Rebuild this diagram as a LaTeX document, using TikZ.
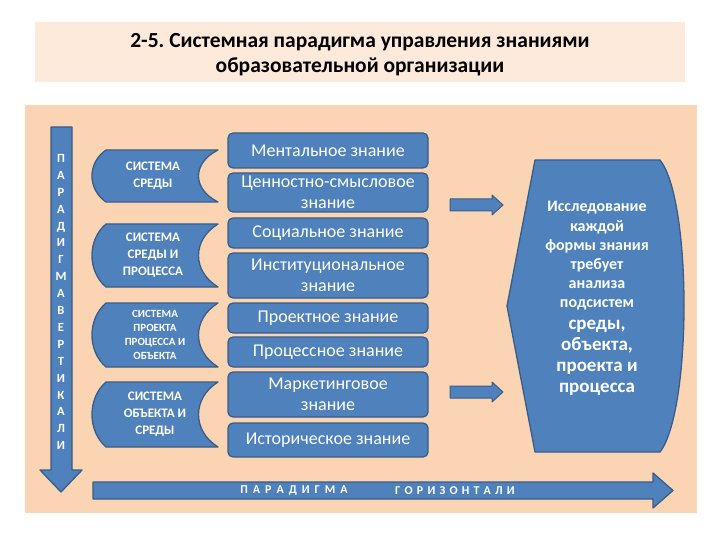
\documentclass[tikz,border=0pt]{standalone}
\usepackage{fontspec}
\setmainfont{Carlito}
\frenchspacing
\definecolor{myblue}{HTML}{4F81BD}
\definecolor{myborder}{HTML}{385D8A}
\definecolor{panelbg}{HTML}{FAD4B3}
\definecolor{titlebg}{HTML}{FDEADA}
\newcommand\lgap{\hspace{5pt}}
\newcommand\lgapb{\hspace{4.2pt}}
\tikzset{
  blueshape/.style={fill=myblue, draw=myborder, line width=1.3pt, line join=round},
  kbox/.style={blueshape, rounded corners=5pt, minimum width=200pt, text=white,
    align=center, inner sep=1pt, font=\fontsize{18}{21}\selectfont},
  scrolltxt/.style={text=white, align=center, font=\bfseries\fontsize{12}{16}\selectfont},
  whitetxt/.style={text=white, align=center}
}
\begin{document}
\begin{tikzpicture}[x=1pt,y=-1pt]
\useasboundingbox (0,0) rectangle (720,540);
\fill[white] (0,0) rectangle (720,540);
\fill[titlebg] (35,22) rectangle (685,82);
\fill[panelbg] (25,105) rectangle (697,513);
\node[font=\bfseries\fontsize{21.5}{25}\selectfont, align=center] (title) at (360,54.5)
  {2-5. Системная парадигма управления знаниями\\образовательной организации};

% vertical arrow
\draw[blueshape] (51,127) -- (72,127) -- (72,470) -- (82,470) -- (61,492) -- (40,470) -- (51,470) -- cycle;
\node[whitetxt, font=\bfseries\fontsize{12.5}{16.9}\selectfont] (vtext) at (61,302)
  {П\\А\\Р\\А\\Д\\И\\Г\\М\\А\\В\\Е\\Р\\Т\\И\\К\\А\\Л\\И};

% horizontal arrow
\draw[blueshape] (93,482) -- (653,482) -- (653,473) -- (673,490.5) -- (653,508) -- (653,499) -- (93,499) -- cycle;
\node[whitetxt, font=\bfseries\fontsize{12}{13}\selectfont] (htext1) at (294,491)
  {П\lgap А\lgap Р\lgap А\lgap Д\lgap И\lgap Г\lgap М\lgap А};
\node[whitetxt, font=\bfseries\fontsize{12}{13}\selectfont] (htext2) at (455,491)
  {Г\lgapb О\lgapb Р\lgapb И\lgapb З\lgapb О\lgapb Н\lgapb Т\lgapb А\lgapb Л\lgapb И};

% scroll shapes
\foreach \t/\b in {150/202, 224/287, 303/367, 382/447}{
  \pgfmathsetmacro\hq{(\b-\t)*0.25}
  \draw[blueshape] (106,\t) -- (218,\t)
     .. controls (192,\t+\hq) and (192,\b-\hq) .. (218,\b) -- (106,\b)
     .. controls (87.3,\b-\hq) and (87.3,\t+\hq) .. (106,\t) -- cycle;
}
\node[scrolltxt, font=\bfseries\fontsize{13}{17}\selectfont] (s1) at (153,176) {СИСТЕМА\\СРЕДЫ};
\node[scrolltxt, font=\bfseries\fontsize{13}{17}\selectfont] (s2) at (153,255.5) {СИСТЕМА\\СРЕДЫ И\\ПРОЦЕССА};
\node[scrolltxt, font=\bfseries\fontsize{11}{14}\selectfont] (s3) at (155,335) {СИСТЕМА\\ПРОЕКТА\\ПРОЦЕССА И\\ОБЪЕКТА};
\node[scrolltxt, font=\bfseries\fontsize{13}{17}\selectfont] (s4) at (155,414.5) {СИСТЕМА\\ОБЪЕКТА И\\СРЕДЫ};

% knowledge boxes
\node[kbox, minimum height=35pt] (k1) at (328,150.5) {Ментальное знание};
\node[kbox, minimum height=39pt] (k2) at (328,192.5) {Ценностно-смысловое\\знание};
\node[kbox, minimum height=30pt] (k3) at (328,233) {Социальное знание};
\node[kbox, minimum height=45pt] (k4) at (328,275.5) {Институциональное\\знание};
\node[kbox, minimum height=30pt] (k5) at (328,318) {Проектное знание};
\node[kbox, minimum height=30pt] (k6) at (328,352) {Процессное знание};
\node[kbox, minimum height=45pt] (k7) at (328,394.5) {Маркетинговое\\знание};
\node[kbox, minimum height=34pt] (k8) at (328,440) {Историческое знание};

% small arrows
\foreach \y in {205,392}{
  \draw[blueshape, line width=1pt] (450,\y-6) -- (492,\y-6) -- (492,\y-10) -- (503,\y) -- (492,\y+10) -- (492,\y+6) -- (450,\y+6) -- cycle;
}

% big shape
\draw[blueshape] (535,160) -- (660,160) .. controls (692,200) and (692,410) .. (660,452) -- (535,452) -- (507,306) -- cycle;
\node[whitetxt, font=\bfseries\fontsize{16}{19.2}\selectfont] (b1) at (597,256)
  {Исследование\\каждой\\формы знания\\требует\\анализа\\подсистем};
\node[whitetxt, font=\bfseries\fontsize{19}{21}\selectfont] (b2) at (597,358)
  {среды,\\объекта,\\проекта и\\процесса};
\end{tikzpicture}
\end{document}
